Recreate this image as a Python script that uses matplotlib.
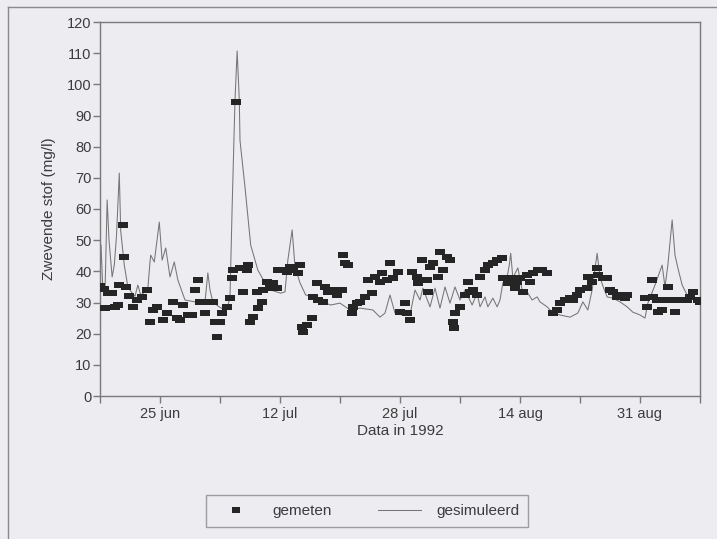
import matplotlib
matplotlib.use("Agg")
import matplotlib.pyplot as plt
from matplotlib.lines import Line2D

plt.rcParams['font.family'] = ['Liberation Sans', 'DejaVu Sans']

# days since start of axis (~16.6 jun 1992)
meas_day = [0.0, 0.6, 0.7, 1.1, 1.7, 2.1, 2.5, 2.6, 3.2, 3.4, 3.6, 4.1, 4.6, 5.2, 5.9, 6.6,
            7.0, 7.4, 8.0, 8.8, 9.4, 10.2, 10.8, 11.2, 11.6, 12.3, 12.9, 13.3, 13.7, 14.0,
            14.7, 15.1, 15.8, 16.1, 16.4, 16.8, 17.1, 17.8, 18.2, 18.5, 18.6, 19.0, 19.6,
            20.0, 20.6, 20.7, 21.0, 21.4, 22.0, 22.1, 22.7, 22.8, 23.4, 23.8, 24.2, 24.8,
            24.9, 25.6, 26.2, 26.6, 27.0, 27.7, 28.0, 28.3, 28.4, 29.0, 29.7, 29.8, 30.4,
            30.5, 31.2, 31.5, 31.9, 32.6, 33.2, 33.9, 34.0, 34.3, 34.7, 35.3, 35.4, 36.0,
            36.4, 37.1, 37.5, 38.1, 38.5, 39.2, 39.5, 40.2, 40.6, 41.0, 41.7, 42.0, 42.7,
            43.0, 43.4, 43.7, 44.4, 44.5, 45.1, 45.8, 45.9, 46.2, 46.6, 47.3, 47.6, 48.0,
            48.6, 49.0, 49.4, 49.5, 49.7, 50.4, 51.1, 51.5, 51.8, 52.2, 52.8, 53.2, 53.9,
            54.3, 55.0, 55.6, 56.3, 56.4, 57.1, 57.7, 58.1, 58.4, 58.8, 59.2, 59.8, 60.2,
            60.6, 61.3, 61.9, 62.6, 63.4, 64.0, 64.4, 65.1, 65.8, 66.2, 66.8, 67.2, 68.2,
            68.3, 68.9, 69.6, 69.7, 70.4, 71.0, 71.4, 71.8, 72.4, 73.1, 73.5, 73.8, 76.3,
            76.6, 77.3, 77.4, 78.0, 78.1, 78.7, 79.4, 79.5, 80.1, 80.5, 80.9, 81.6, 82.2,
            82.6, 83.0, 83.7, 84.0]
meas_val = [35.3, 34.3, 28.2, 33.0, 33.0, 28.6, 29.2, 35.6, 54.9, 44.6, 35.0, 32.1, 28.6, 30.8,
            31.8, 34.0, 23.7, 27.6, 28.6, 24.4, 26.6, 30.2, 25.0, 24.4, 29.2, 26.0, 26.0,
            34.0, 37.2, 30.2, 26.6, 30.2, 30.2, 23.7, 18.9, 23.7, 26.6, 28.6, 31.4, 37.9,
            40.4, 94.3, 41.1, 33.4, 40.4, 42.0, 23.7, 25.3, 33.4, 28.2, 30.2, 34.0, 36.6,
            34.6, 36.3, 34.6, 40.4, 40.4, 39.8, 41.4, 40.4, 39.5, 42.0, 22.1, 20.5, 22.8,
            25.0, 31.8, 36.3, 30.8, 30.2, 35.0, 33.4, 34.0, 32.4, 34.0, 45.2, 42.7, 42.0,
            26.6, 28.6, 29.8, 30.2, 31.8, 37.2, 33.0, 38.2, 36.6, 39.5, 37.2, 42.7, 37.9,
            39.8, 26.9, 29.8, 26.6, 24.4, 39.8, 38.2, 36.3, 43.6, 37.2, 33.4, 41.4, 42.7,
            38.2, 46.2, 40.4, 44.6, 43.6, 23.7, 21.8, 26.6, 28.6, 32.4, 36.6, 33.4, 34.0,
            32.4, 38.2, 40.4, 42.0, 42.7, 43.6, 44.3, 37.9, 36.3, 37.9, 34.6, 36.6, 37.9,
            33.4, 38.8, 36.6, 39.5, 40.4, 40.4, 39.5, 26.6, 27.6, 29.8, 30.8, 31.4, 30.8,
            32.4, 34.0, 34.6, 38.2, 36.6, 41.1, 38.8, 37.9, 37.9, 34.0, 33.4, 31.8, 32.4,
            31.4, 32.4, 31.4, 28.6, 37.2, 31.8, 30.8, 26.9, 27.6, 30.8, 35.0, 30.8, 26.9,
            30.8, 30.8, 30.8, 31.8, 33.4, 30.8, 30.2]

sim_day = [0.0, 0.14, 0.4, 0.7, 1.0, 1.26, 1.7, 2.0, 2.3, 2.7, 2.9, 3.4, 3.9, 4.5, 4.9, 5.3,
           5.7, 6.3, 6.7, 7.0, 7.1, 7.6, 8.3, 8.7, 9.2, 9.8, 10.4, 10.9, 11.9, 13.3, 14.7,
           15.1, 15.4, 15.8, 16.5, 17.4, 17.9, 18.2, 18.5, 18.9, 19.2, 19.5, 19.6, 20.3,
           21.1, 22.1, 23.1, 23.9, 25.3, 25.9, 26.3, 26.9, 27.3, 28.0, 28.8, 30.1, 31.1,
           32.3, 33.6, 35.0, 36.4, 38.2, 39.2, 39.9, 40.6, 41.3, 42.3, 43.4, 44.1, 44.8,
           45.2, 46.2, 46.9, 47.6, 48.3, 49.0, 49.7, 50.4, 51.1, 52.1, 52.8, 53.2, 53.9,
           54.3, 55.0, 55.6, 56.0, 56.4, 57.0, 57.3, 57.5, 57.8, 58.5, 59.1, 59.8, 60.5,
           61.2, 61.6, 62.6, 63.4, 64.4, 65.8, 66.9, 67.6, 68.3, 68.9, 69.6, 70.0, 70.4,
           71.0, 71.8, 72.8, 73.8, 74.6, 75.6, 76.3, 76.7, 77.7, 78.7, 79.1, 79.5, 80.1,
           80.5, 80.9, 81.5, 82.2, 83.0, 84.0]
sim_val = [35.3, 48.5, 34.0, 33.0, 62.9, 50.0, 38.2, 42.0, 51.0, 71.5, 53.0, 42.0, 35.0, 33.0,
           32.0, 35.6, 32.4, 33.4, 34.6, 43.0, 45.2, 43.0, 55.8, 43.6, 47.5, 38.2, 43.0,
           37.2, 30.8, 30.2, 30.2, 39.5, 34.0, 30.2, 28.9, 27.6, 28.9, 31.8, 60.6, 95.0,
           110.7, 95.0, 82.0, 67.0, 48.4, 40.4, 36.3, 34.0, 33.0, 33.4, 43.6, 53.3, 41.4,
           36.3, 32.4, 31.8, 30.2, 29.2, 29.8, 27.6, 28.2, 27.6, 25.3, 26.6, 32.4, 26.6,
           26.0, 26.0, 34.0, 30.8, 34.6, 28.6, 34.6, 28.2, 35.0, 29.8, 35.0, 30.8, 34.0,
           29.2, 33.0, 28.6, 31.8, 28.6, 31.4, 28.6, 30.8, 36.3, 38.2, 42.0, 45.8, 37.9,
           41.1, 34.0, 33.4, 30.8, 31.8, 30.2, 28.6, 26.6, 26.0, 25.3, 26.6, 30.2, 27.6,
           34.0, 45.8, 38.2, 35.3, 31.8, 31.4, 30.2, 28.6, 26.9, 26.0, 25.0, 29.8, 35.6,
           42.0, 35.0, 42.0, 56.5, 45.2, 41.1, 35.6, 32.4, 31.4, 30.2]

tick_pos = [0, 8.4, 16.8, 25.2, 33.6, 42.0, 50.4, 58.8, 67.2, 75.6, 84.0]
tick_labels = ['', '25 jun', '', '12 jul', '', '28 jul', '', '14 aug', '', '31 aug', '']
y_ticks = list(range(0, 121, 10))

bg = '#ececf1'
txt = '#3c3c3c'
fig = plt.figure(figsize=(7.17, 5.39), dpi=100, facecolor=bg)
ax = fig.add_axes([100/717, 1 - 396/539, 600/717, 374/539], facecolor=bg)

ax.plot(sim_day, sim_val, color='#767676', lw=0.75, zorder=2)
rect_marker = [(-1, -0.72), (1, -0.72), (1, 0.72), (-1, 0.72), (-1, -0.72)]
ax.plot(meas_day, meas_val, linestyle='none', marker=rect_marker, markersize=7,
        color='#252525', markeredgewidth=0, zorder=3)

ax.set_xlim(0, 84)
ax.set_ylim(0, 120)
ax.set_xticks(tick_pos)
ax.set_xticklabels(tick_labels)
ax.set_yticks(y_ticks)
for s in ax.spines.values():
    s.set_color('#7a7a7a')
    s.set_linewidth(1.0)
ax.tick_params(axis='both', direction='out', length=5, width=1, color='#7a7a7a',
               labelcolor=txt, labelsize=10.5)
ax.tick_params(axis='y', pad=1)
ax.tick_params(axis='x', pad=3)
ax.set_xlabel('Data in 1992', fontsize=11, color=txt, labelpad=2)
ax.set_ylabel('Zwevende stof (mg/l)', fontsize=11, color=txt, labelpad=8)

handles = [Line2D([], [], linestyle='none', marker=rect_marker, markersize=6, color='#252525',
                  markeredgewidth=0),
           Line2D([], [], color='#767676', lw=0.75)]
leg = fig.legend(handles, ['gemeten', 'gesimuleerd'], loc='center',
                 bbox_to_anchor=(367/717, 1 - 511/539), ncol=2, frameon=True, fancybox=False,
                 edgecolor='#8a8a8a', facecolor=bg, fontsize=11, handlelength=2.8,
                 columnspacing=3.0, borderpad=0.6, handletextpad=1.0)
leg.get_frame().set_linewidth(1.0)
for t in leg.get_texts():
    t.set_color(txt)

# page frame of the scan
fig.add_artist(Line2D([8/717, 1.0], [1 - 7/539, 1 - 7/539], color='#8a8a8a', lw=1.0))
fig.add_artist(Line2D([8/717, 8/717], [0.0, 1 - 7/539], color='#8a8a8a', lw=1.0))

fig.savefig('out.png', dpi=100, facecolor=bg)
